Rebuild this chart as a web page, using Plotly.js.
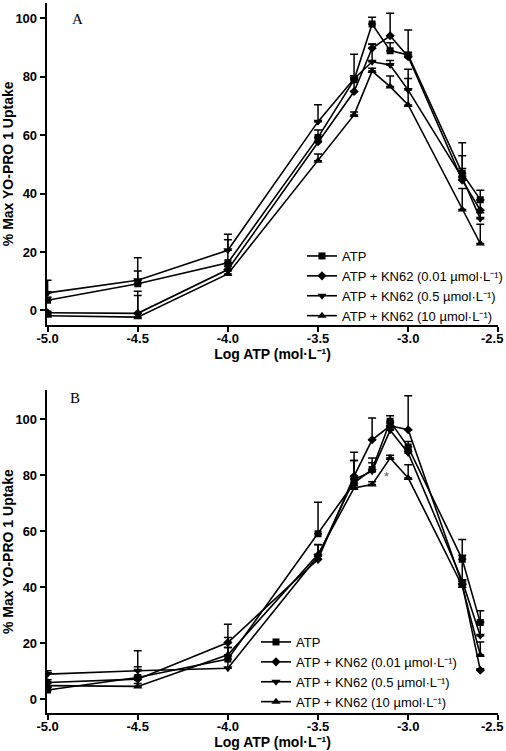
<!DOCTYPE html>
<html><head><meta charset="utf-8">
<script src="https://cdn.plot.ly/plotly-3.0.1.min.js"></script>
<style>html,body{margin:0;padding:0;background:#fff}#chart{width:506px;height:751px}</style>
</head><body><div id="chart"></div>
<script>
const logATP = [-5.0, -4.5, -4.0, -3.5, -3.3, -3.2, -3.1, -3.0, -2.7, -2.6];
const seriesNames = ['ATP', 'ATP + KN62 (0.01 µmol·L⁻¹)', 'ATP + KN62 (0.5 µmol·L⁻¹)', 'ATP + KN62 (10 µmol·L⁻¹)'];
const xTickVals = [-5.0, -4.5, -4.0, -3.5, -3.0, -2.5];
const xTickText = ['-5.0', '-4.5', '-4.0', '-3.5', '-3.0', ''];
const lastTickVal = -2.5;
const lastTickText = '-2.5';
const yTickVals = [0, 20, 40, 60, 80, 100];

// Panel A
const aATP      = [3.5, 9.1, 16.3, 59.2, 78.9, 98.0, 88.9, 87.4, 46.9, 37.9];
const aATPerr   = [1.0, 4.4, 7.9, 2.5, 8.8, 2.3, 2.7, 8.6, 10.5, 3.2];
const aKN001    = [-0.8, -1.0, 14.0, 57.7, 74.9, 89.7, 94.0, 86.8, 44.6, 34.3];
const aKN001err = [0.5, 7.6, 1.0, 1.5, 4.4, 1.5, 7.7, 1.5, 8.3, 3.4];
const aKN05     = [6.0, 10.3, 20.6, 64.6, 79.3, 85.1, 84.0, 75.4, 45.4, 31.4];
const aKN05err  = [4.3, 7.7, 5.5, 5.8, 1.0, 6.0, 1.5, 7.1, 3.2, 2.0];
const aKN10     = [-1.8, -2.3, 12.5, 51.2, 66.9, 81.9, 76.6, 70.3, 34.5, 22.9];
const aKN10err  = [0.5, 7.4, 1.0, 2.3, 1.0, 1.0, 3.6, 9.1, 7.2, 6.6];

// Panel B
const bATP      = [3.2, 7.7, 14.3, 59.0, 77.2, 82.0, 99.2, 90.0, 49.9, 27.3];
const bATPerr   = [1.0, 9.5, 7.7, 11.3, 11.0, 4.1, 2.0, 2.0, 7.1, 4.2];
const bKN001    = [5.9, 7.1, 20.2, 49.9, 79.6, 92.6, 97.6, 96.2, 41.0, 10.3];
const bKN001err = [1.0, 1.0, 6.5, 1.0, 5.6, 7.8, 1.0, 12.1, 1.0, 0.5];
const bKN05     = [8.9, 10.1, 11.0, 51.1, 78.4, 81.4, 96.0, 87.9, 42.2, 22.6];
const bKN05err  = [1.2, 1.4, 7.4, 4.0, 6.8, 3.0, 1.0, 1.0, 9.2, 5.0];
const bKN10     = [4.8, 4.5, 15.8, 51.7, 75.4, 76.6, 86.1, 79.0, 40.4, 15.7];
const bKN10err  = [1.0, 1.0, 2.6, 3.5, 1.0, 1.0, 1.0, 4.7, 1.0, 4.7];

const symbols = ['square', 'diamond', 'triangle-down', 'triangle-up'];
const sizes = [7, 7, 8, 8];

function mk(y, err, i, xa, ya, leg) {
  return {
    x: logATP, y: y, type: 'scatter', mode: 'lines+markers',
    name: seriesNames[i], xaxis: xa, yaxis: ya, legend: leg,
    line: {color: '#000', width: 1.6},
    marker: {symbol: symbols[i], size: sizes[i], color: '#000'},
    error_y: {type: 'data', symmetric: false, array: err, arrayminus: err.map(() => 0),
              color: '#000', thickness: 1.5, width: 4}
  };
}

const data = [
  mk(aATP, aATPerr, 0, 'x', 'y', 'legend'),
  mk(aKN001, aKN001err, 1, 'x', 'y', 'legend'),
  mk(aKN05, aKN05err, 2, 'x', 'y', 'legend'),
  mk(aKN10, aKN10err, 3, 'x', 'y', 'legend'),
  mk(bATP, bATPerr, 0, 'x2', 'y2', 'legend2'),
  mk(bKN001, bKN001err, 1, 'x2', 'y2', 'legend2'),
  mk(bKN05, bKN05err, 2, 'x2', 'y2', 'legend2'),
  mk(bKN10, bKN10err, 3, 'x2', 'y2', 'legend2')
];

const tickFont = {family: 'Liberation Sans, Arial, sans-serif', size: 13, color: '#000', weight: 'bold'};
const titleFont = {family: 'Liberation Sans, Arial, sans-serif', size: 14, color: '#000', weight: 'bold'};

function xax(dom, anchor) {
  return {domain: dom, anchor: anchor, range: [-5.005, -2.5], tickvals: xTickVals, ticktext: xTickText,
    showline: true, linewidth: 2, linecolor: '#000', ticks: 'outside', ticklen: 5, tickwidth: 2, tickcolor: '#000',
    showgrid: false, zeroline: false, tickfont: tickFont, ticklabeloverflow: 'allow', automargin: false,
    ticklabelstandoff: -5,
    title: {text: 'Log ATP (mol·L⁻¹)', font: titleFont, standoff: 2}};
}
function yax(dom, anchor, rng) {
  return {domain: dom, anchor: anchor, range: rng, tickvals: yTickVals,
    showline: true, linewidth: 2, linecolor: '#000', ticks: 'outside', ticklen: 5, tickwidth: 2, tickcolor: '#000',
    showgrid: false, zeroline: false, tickfont: tickFont, ticklabeloverflow: 'allow', automargin: false,
    title: {text: '% Max YO-PRO 1 Uptake', font: titleFont, standoff: 6}};
}

const legFont = {family: 'Liberation Sans, Arial, sans-serif', size: 13, color: '#000'};

const layout = {
  width: 506, height: 751,
  margin: {l: 0, r: 0, t: 0, b: 0, autoexpand: false},
  paper_bgcolor: '#fff', plot_bgcolor: '#fff',
  xaxis: xax([0.0923, 0.9848], 'y'),
  yaxis: yax([0.5672, 0.9964], 'x', [-5.0, 105.3]),
  xaxis2: xax([0.0923, 0.9848], 'y2'),
  yaxis2: yax([0.0502, 0.4807], 'x2', [-5.1, 110.4]),
  legend: {x: 302 / 506, y: 1 - 241 / 751, xanchor: 'left', yanchor: 'top', font: legFont, bgcolor: 'rgba(0,0,0,0)', tracegroupgap: 0},
  legend2: {x: 256 / 506, y: 1 - 627 / 751, xanchor: 'left', yanchor: 'top', font: legFont, bgcolor: 'rgba(0,0,0,0)', tracegroupgap: 0},
  showlegend: true,
  annotations: [
    {text: 'A', xref: 'paper', yref: 'paper', x: 70 / 506, y: 1 - 9 / 751, showarrow: false,
     font: {family: 'Liberation Serif, Times New Roman, serif', size: 15, color: '#000'}},
    {text: 'B', xref: 'paper', yref: 'paper', x: 68 / 506, y: 1 - 398 / 751, showarrow: false,
     font: {family: 'Liberation Serif, Times New Roman, serif', size: 15, color: '#000'}},
    {text: '*', xref: 'x2', yref: 'y2', x: -3.12, y: 79.5, showarrow: false,
     font: {family: 'Liberation Sans, Arial, sans-serif', size: 13, color: '#555'}},
    {text: lastTickText, xref: 'x', yref: 'paper', x: lastTickVal, y: 1 - 338 / 751, xanchor: 'right', yanchor: 'middle',
     xshift: 7, showarrow: false, font: tickFont},
    {text: lastTickText, xref: 'x2', yref: 'paper', x: lastTickVal, y: 1 - 726 / 751, xanchor: 'right', yanchor: 'middle',
     xshift: 7, showarrow: false, font: tickFont}
  ]
};

Plotly.newPlot('chart', data, layout, {displayModeBar: false, staticPlot: true});
</script>
</body></html>
